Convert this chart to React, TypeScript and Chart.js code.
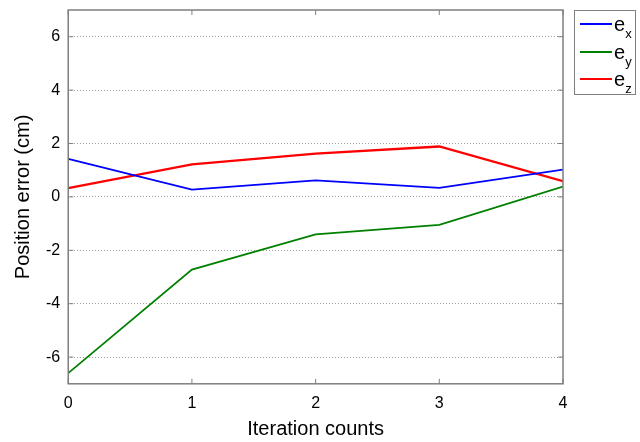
import React, { useEffect, useRef } from "react";
import { Chart, registerables } from "chart.js";

Chart.register(...registerables);

const iterations = [0, 1, 2, 3, 4];
const ex = [1.42, 0.27, 0.62, 0.34, 1.02];
const ey = [-6.6, -2.72, -1.4, -1.05, 0.39];
const ez = [0.33, 1.22, 1.62, 1.89, 0.59];
const yTickValues = [-6, -4, -2, 0, 2, 4, 6];
const xTickValues = [0, 1, 2, 3, 4];
const seriesNames = ["x", "y", "z"];
const seriesColors = ["#0000ff", "#008000", "#ff0000"];

const FONT = "'Liberation Sans', Arial, Helvetica, sans-serif";

const framePlugin = {
  id: "frame",
  afterDraw(chart: any) {
    const { ctx, chartArea: a, scales } = chart;
    ctx.save();
    ctx.strokeStyle = "#7f7f7f";
    ctx.lineWidth = 1.5;
    ctx.strokeRect(a.left, a.top, a.right - a.left, a.bottom - a.top);
    ctx.lineWidth = 1;
    const t = 5;
    yTickValues.forEach((v) => {
      const y = scales.y.getPixelForValue(v);
      ctx.beginPath();
      ctx.moveTo(a.left, y);
      ctx.lineTo(a.left + t, y);
      ctx.moveTo(a.right, y);
      ctx.lineTo(a.right - t, y);
      ctx.stroke();
    });
    xTickValues.forEach((v) => {
      const x = scales.x.getPixelForValue(v);
      ctx.beginPath();
      ctx.moveTo(x, a.bottom);
      ctx.lineTo(x, a.bottom - t);
      ctx.moveTo(x, a.top);
      ctx.lineTo(x, a.top + t);
      ctx.stroke();
    });
    ctx.restore();
  },
};

export default function App() {
  const ref = useRef<HTMLCanvasElement>(null);
  useEffect(() => {
    document.body.style.margin = "0";
    const series = [ex, ey, ez];
    const chart = new Chart(ref.current!, {
      type: "line",
      data: {
        datasets: series.map((s, i) => ({
          label: "e" + seriesNames[i],
          data: iterations.map((x, j) => ({ x, y: s[j] })),
          borderColor: seriesColors[i],
          backgroundColor: seriesColors[i],
          borderWidth: i === 2 ? 2.4 : 1.8,
          pointRadius: 0,
          tension: 0,
          fill: false,
        })),
      },
      options: {
        animation: false,
        responsive: false,
        maintainAspectRatio: false,
        layout: { padding: { left: 11, right: 77, top: 10, bottom: 1 } },
        plugins: { legend: { display: false }, tooltip: { enabled: false } },
        scales: {
          x: {
            type: "linear",
            min: 0,
            max: 4,
            afterBuildTicks: (s: any) => {
              s.ticks = xTickValues.map((v) => ({ value: v }));
            },
            grid: { display: false, drawTicks: false },
            border: { display: false },
            ticks: {
              color: "#000",
              font: { family: FONT, size: 16 },
              padding: 10,
              maxRotation: 0,
            },
            title: {
              display: true,
              text: "Iteration counts",
              color: "#000",
              font: { family: FONT, size: 20 },
              padding: { top: -6, bottom: 0 },
            },
          },
          y: {
            type: "linear",
            min: -7,
            max: 7,
            afterBuildTicks: (s: any) => {
              s.ticks = yTickValues.map((v) => ({ value: v }));
            },
            afterFit: (s: any) => {
              s.paddingTop = 0;
              s.paddingBottom = 0;
            },
            grid: {
              color: "#a0a0a0",
              lineWidth: 1,
              drawTicks: false,
            },
            border: { display: false, dash: [1, 2] },
            ticks: {
              color: "#000",
              font: { family: FONT, size: 16 },
              padding: 8,
            },
            title: {
              display: true,
              text: "Position error (cm)",
              color: "#000",
              font: { family: FONT, size: 20 },
              padding: { top: 0, bottom: 3 },
            },
          },
        },
      },
      plugins: [framePlugin],
    } as any);
    return () => chart.destroy();
  }, []);

  return (
    <div style={{ position: "relative", width: 640, height: 442, background: "#fff" }}>
      <canvas ref={ref} width={640} height={442} style={{ display: "block" }} />
      <div
        style={{
          position: "absolute",
          left: 574,
          top: 10,
          width: 62,
          height: 85,
          border: "1px solid #7f7f7f",
          boxSizing: "border-box",
          fontFamily: FONT,
        }}
      >
        {seriesNames.map((n, i) => (
          <div
            key={n}
            style={{
              position: "absolute",
              left: 5,
              top: 2 + i * 27.5,
              height: 22,
              display: "flex",
              alignItems: "center",
            }}
          >
            <div style={{ width: 32, height: 2, background: seriesColors[i] }} />
            <span style={{ marginLeft: 2, fontSize: 20, lineHeight: "20px", color: "#000" }}>
              e
              <sub style={{ fontSize: 13, verticalAlign: "-7px", lineHeight: 0 }}>{n}</sub>
            </span>
          </div>
        ))}
      </div>
    </div>
  );
}
